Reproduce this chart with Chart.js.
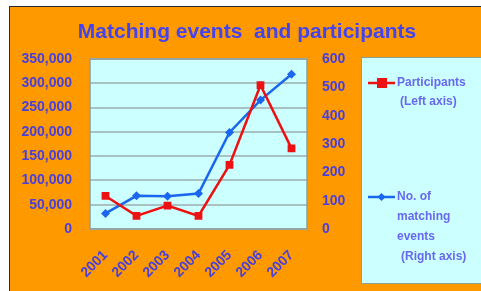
<!DOCTYPE html>
<html>
<head>
<meta charset="utf-8">
<script src="https://cdn.jsdelivr.net/npm/chart.js@4/dist/chart.umd.min.js"></script>
<style>
  html, body { margin: 0; padding: 0; background: #ffffff; }
  #wrap { width: 481px; height: 291px; }
</style>
</head>
<body>
<div id="wrap"><canvas id="matchChart" width="481" height="291"></canvas></div>
<script>
// years on the x axis
var years = ['2001', '2002', '2003', '2004', '2005', '2006', '2007'];
// participants, read against the left axis
var participants = [68000, 27000, 48000, 27000, 132000, 296000, 166000];
// number of matching events, read against the right axis
var matchingEvents = [55, 117, 116, 125, 341, 455, 546];

var blueText = '#4840dc';
var tickFont = { family: "'Liberation Sans', Arial, sans-serif", size: 14, weight: 'bold' };

// orange panel, cyan plot area, title and the boxed legend
var decor = {
  id: 'decor',
  beforeDraw: function (chart) {
    var ctx = chart.ctx, a = chart.chartArea;
    ctx.save();
    ctx.fillStyle = '#ffffff';
    ctx.fillRect(0, 0, chart.width, chart.height);
    ctx.fillStyle = '#2a2a2a';
    ctx.fillRect(9, 6, chart.width - 9, chart.height - 6);
    ctx.fillStyle = '#ff9900';
    ctx.fillRect(10, 7, chart.width - 10, chart.height - 7);
    ctx.fillStyle = '#ccffff';
    ctx.fillRect(a.left, a.top, a.right - a.left, a.bottom - a.top);
    ctx.restore();
  },
  afterDraw: function (chart) {
    var ctx = chart.ctx, a = chart.chartArea;
    ctx.save();
    ctx.strokeStyle = '#8c9c9c';
    ctx.lineWidth = 1.5;
    ctx.strokeRect(a.left, a.top, a.right - a.left, a.bottom - a.top);

    // title
    ctx.fillStyle = '#4444ee';
    ctx.font = "bold 21px 'Liberation Sans', Arial, sans-serif";
    ctx.textAlign = 'center';
    ctx.textBaseline = 'middle';
    ctx.fillText('Matching events  and participants', 247, 32);

    // legend box
    ctx.fillStyle = '#ccffff';
    ctx.fillRect(361, 57, 130, 226);
    ctx.strokeStyle = '#8f9f8f';
    ctx.lineWidth = 1;
    ctx.strokeRect(361.5, 57.5, 130, 226);

    ctx.lineWidth = 2.5;
    ctx.strokeStyle = '#ee1111';
    ctx.beginPath(); ctx.moveTo(368, 83); ctx.lineTo(395, 83); ctx.stroke();
    ctx.fillStyle = '#ee1111';
    ctx.fillRect(377, 78, 10, 10);

    ctx.strokeStyle = '#1a66ee';
    ctx.beginPath(); ctx.moveTo(368, 197); ctx.lineTo(395, 197); ctx.stroke();
    ctx.fillStyle = '#1a66ee';
    ctx.beginPath();
    ctx.moveTo(381.5, 193); ctx.lineTo(385.5, 197); ctx.lineTo(381.5, 201); ctx.lineTo(377.5, 197);
    ctx.closePath(); ctx.fill();

    ctx.fillStyle = '#6868f0';
    ctx.font = "bold 12px 'Liberation Sans', Arial, sans-serif";
    ctx.textAlign = 'left';
    ctx.fillText('Participants', 397, 83);
    ctx.fillText('(Left axis)', 400, 102);
    ctx.fillText('No. of', 397, 197);
    ctx.fillText('matching', 397, 217);
    ctx.fillText('events', 397, 237);
    ctx.fillText('(Right axis)', 401, 257);
    ctx.restore();
  }
};

var matchChart = new Chart(document.getElementById('matchChart'), {
  type: 'line',
  data: {
    labels: years,
    datasets: [
      {
        label: 'Participants (Left axis)',
        data: participants,
        yAxisID: 'y',
        borderColor: '#ee1111',
        backgroundColor: '#ee1111',
        borderWidth: 2.5,
        pointStyle: 'rect',
        pointRadius: 5.5,
        pointBorderWidth: 0,
        tension: 0,
      },
      {
        label: 'No. of matching events (Right axis)',
        data: matchingEvents,
        yAxisID: 'y1',
        borderColor: '#1a66ee',
        backgroundColor: '#1a66ee',
        borderWidth: 2.5,
        pointStyle: 'rectRot',
        pointRadius: 4.5,
        pointBorderWidth: 0,
        tension: 0,
      },
    ],
  },
  options: {
    responsive: false,
    animation: false,
    layout: { padding: { left: 10, right: 124, top: 59, bottom: 7 } },
    plugins: {
      legend: { display: false },
      title: { display: false },
      tooltip: { enabled: false },
    },
    scales: {
      x: {
        offset: true,
        grid: { display: false },
        border: { display: false },
        ticks: {
          color: blueText,
          font: tickFont,
          autoSkip: false,
          maxRotation: 45,
          minRotation: 45,
          padding: 10,
        },
        afterFit: function (scale) { scale.height = 55; },
      },
      y: {
        position: 'left',
        min: 0,
        max: 350000,
        border: { display: false },
        grid: { color: '#a8c2c2', lineWidth: 2, drawTicks: false },
        ticks: {
          stepSize: 50000,
          color: blueText,
          font: tickFont,
          padding: 18,
          callback: function (v) { return v.toLocaleString('en-US'); },
        },
        afterFit: function (scale) { scale.width = 80; },
      },
      y1: {
        position: 'right',
        min: 0,
        max: 600,
        border: { display: false },
        grid: { drawOnChartArea: false, drawTicks: false },
        ticks: {
          stepSize: 100,
          color: blueText,
          font: tickFont,
          padding: 15,
        },
        afterFit: function (scale) { scale.width = 50; },
      },
    },
  },
  plugins: [decor],
});
</script>
</body>
</html>
